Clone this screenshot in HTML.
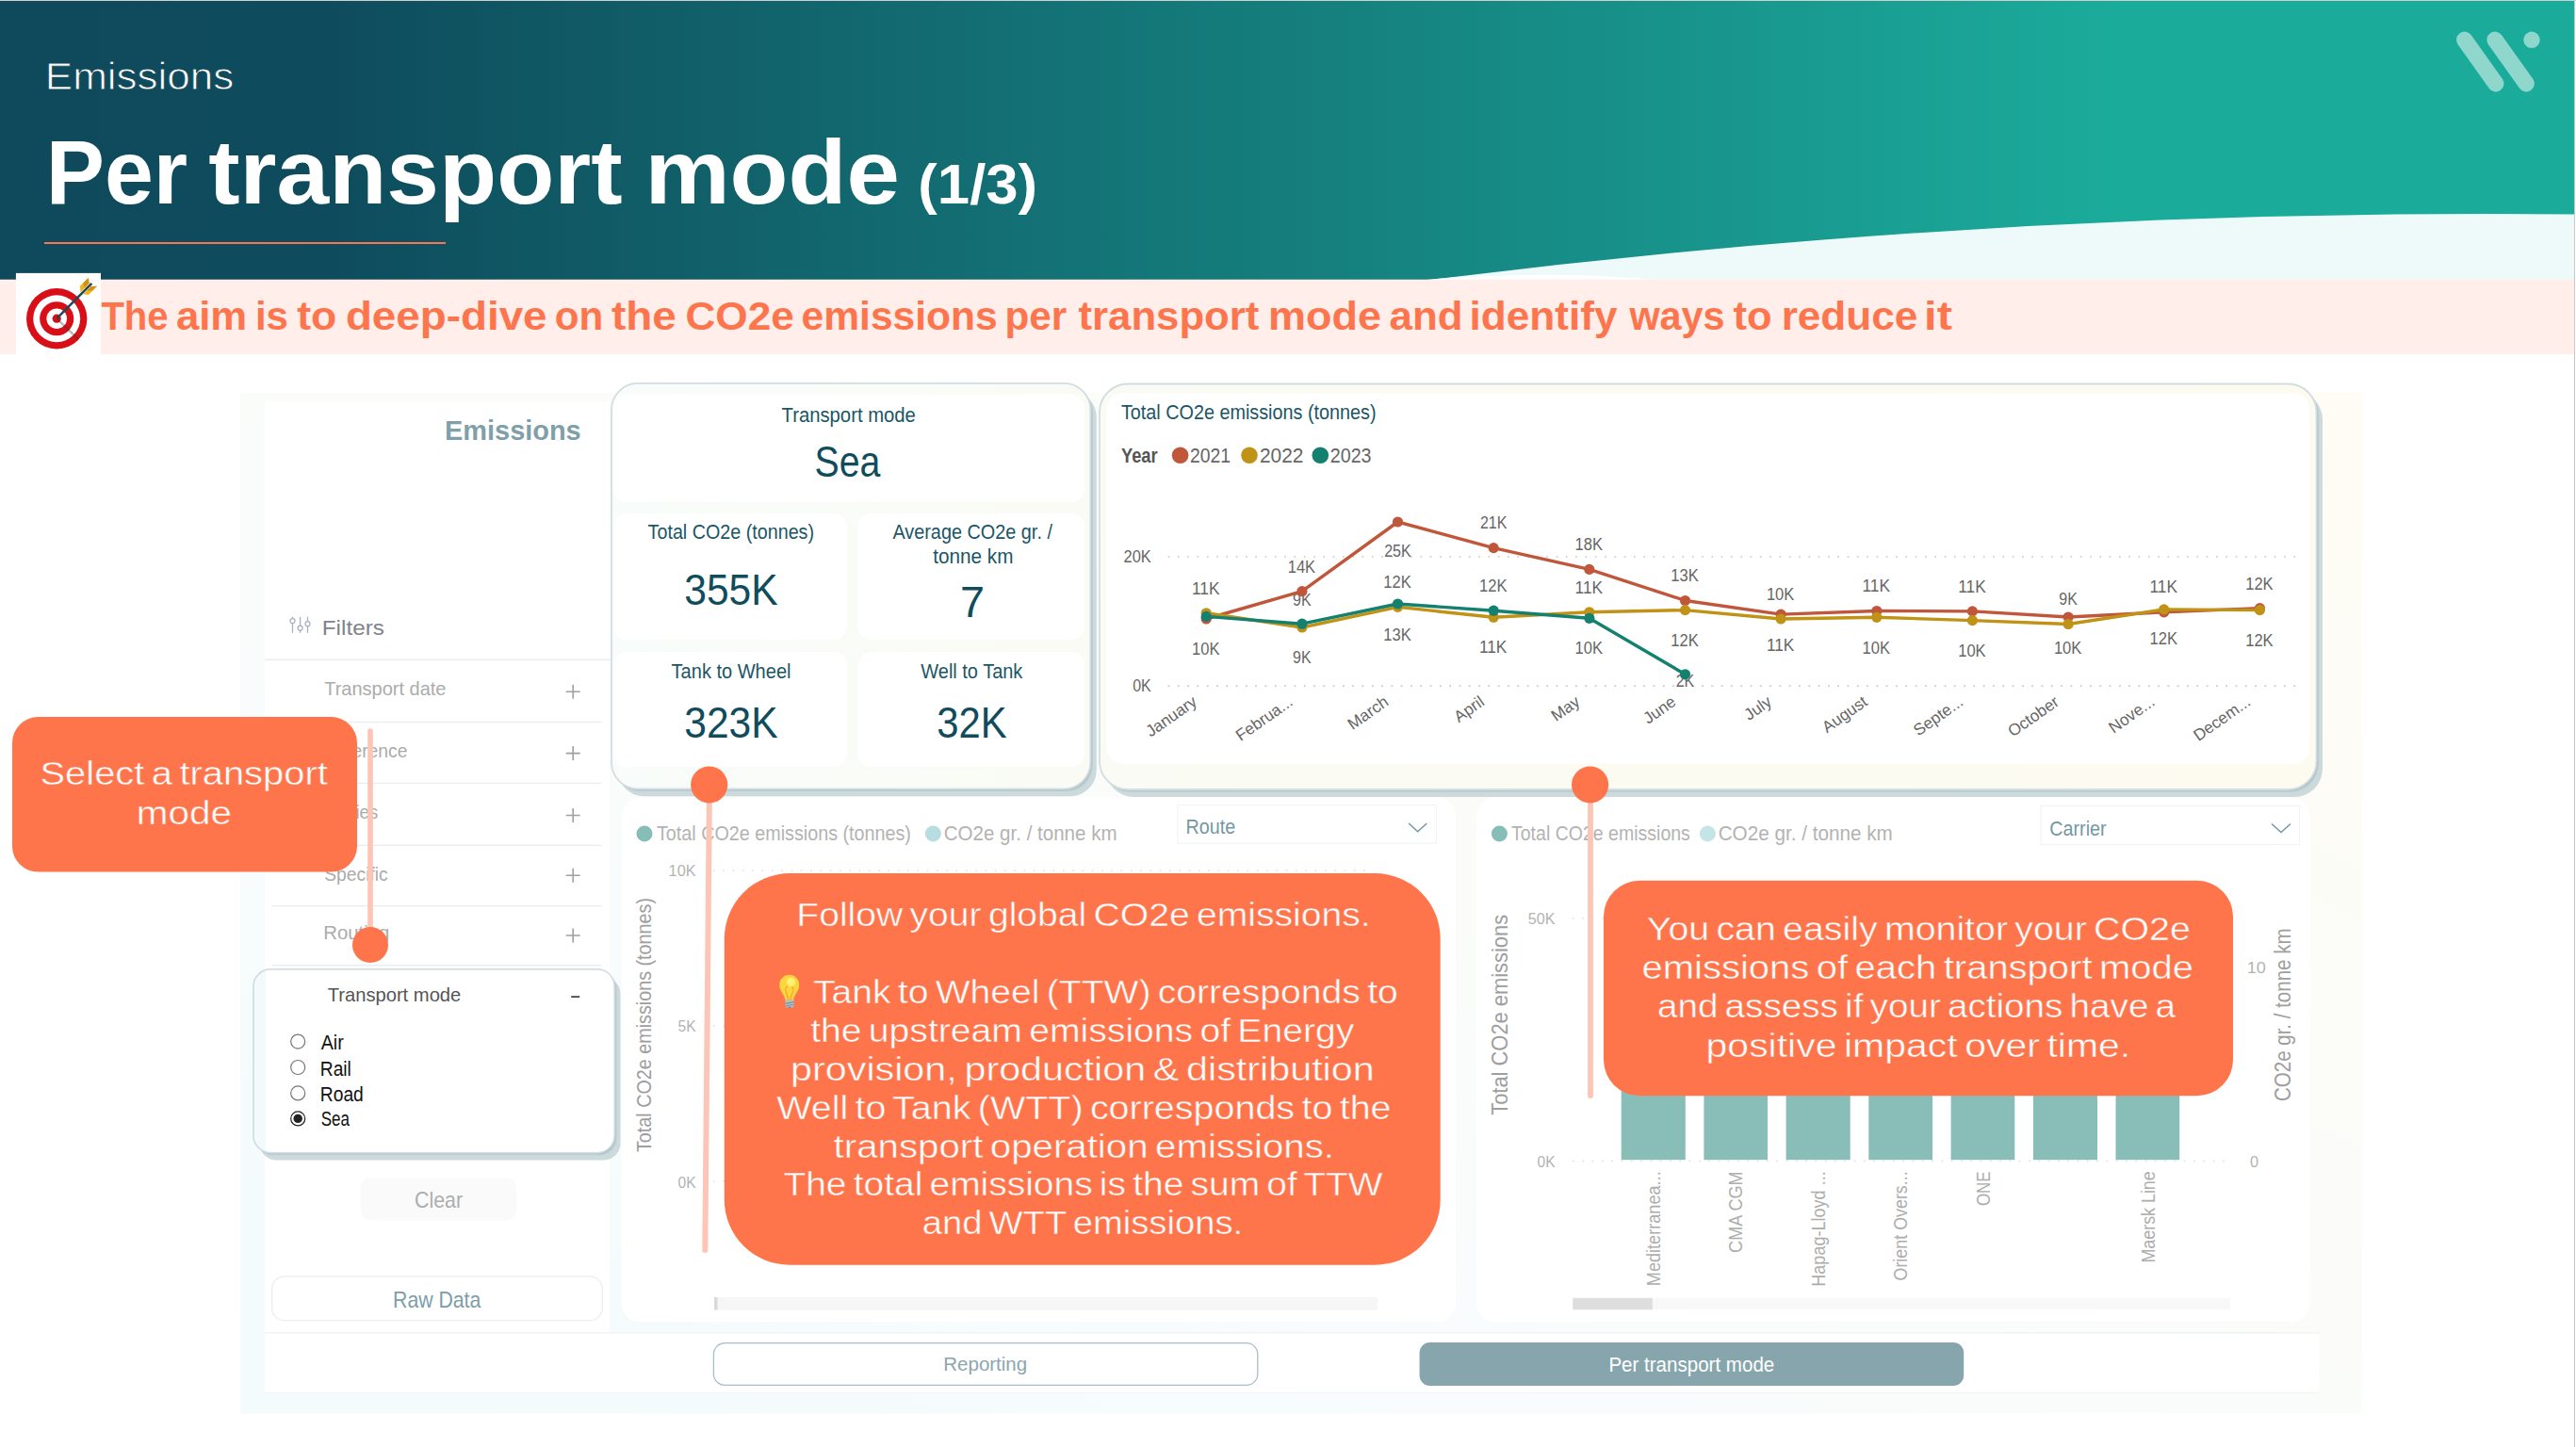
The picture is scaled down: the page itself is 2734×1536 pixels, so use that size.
<!DOCTYPE html>
<html lang="en"><head><meta charset="utf-8"><title>Emissions - Per transport mode (1/3)</title>
<style>
html,body{margin:0;padding:0;background:#fff;}
body{width:2734px;height:1536px;overflow:hidden;font-family:"Liberation Sans",sans-serif;}
svg{display:block;}
svg text{font-family:"Liberation Sans",sans-serif;}
</style></head><body>
<svg width="2734" height="1536" viewBox="0 0 2734 1536">
<defs>
<linearGradient id="hg" x1="0" x2="2734" y1="0" y2="0" gradientUnits="userSpaceOnUse">
<stop offset="0" stop-color="#0E4A5B"/><stop offset="0.12" stop-color="#0E4B5C"/>
<stop offset="0.5" stop-color="#157E7D"/><stop offset="0.82" stop-color="#1BAB9B"/><stop offset="1" stop-color="#1AAB9A"/>
</linearGradient>
<linearGradient id="dbg" x1="2507" y1="417" x2="1661" y2="2176" gradientUnits="userSpaceOnUse">
<stop offset="0" stop-color="#FEFCF4"/><stop offset="0.3" stop-color="#FCFCF8"/><stop offset="0.55" stop-color="#FAFCFB"/><stop offset="1" stop-color="#F3FBFD"/>
</linearGradient>
<linearGradient id="kbg" x1="0" x2="1" y1="0" y2="0">
<stop offset="0" stop-color="#F8FCFA"/><stop offset="1" stop-color="#FAFBF4"/>
</linearGradient>
<linearGradient id="cbg" x1="0" x2="1" y1="0" y2="0">
<stop offset="0" stop-color="#FAFBF4"/><stop offset="1" stop-color="#FDFBF0"/>
</linearGradient>
</defs>
<rect x="0.0" y="0.0" width="2734.0" height="1536.0" rx="0" fill="#FFFFFF" />
<rect x="0.0" y="0.0" width="2732.0" height="297.0" rx="0" fill="url(#hg)" />
<path d="M1514,297 Q1900,262 2120,297 Z" fill="#FFFFFF"/>
<path d="M1514,297.5 Q2122,221 2732,227.4 L2732,297.5 Z" fill="#EEFAFA"/>
<path d="M1514,297.5 Q1640,286 1765,297.5 Z" fill="#FFFFFF"/>
<rect x="0.0" y="0.0" width="2734.0" height="1.0" rx="0" fill="#CFCFCF" />
<rect x="2732.0" y="0.0" width="1.0" height="1536.0" rx="0" fill="#C9C9C9" />
<g stroke="#8FD6CC" stroke-width="17.4" stroke-linecap="round"><line x1="2615.7" y1="42.3" x2="2648.8" y2="88.7"/><line x1="2648" y1="42.3" x2="2681.2" y2="88.7"/></g><circle cx="2687" cy="42.3" r="8.7" fill="#8FD6CC"/>
<text x="47.8" y="95.2" font-size="41.4" fill="#FFFFFF" stroke="#0E4A5B" stroke-width="0.9" textLength="200.43" lengthAdjust="spacingAndGlyphs" >Emissions</text>
<text x="48.7" y="216.3" font-size="96.88" fill="#FFFFFF" font-weight="bold" textLength="150.35" lengthAdjust="spacingAndGlyphs" >Per</text>
<text x="221.2" y="216.3" font-size="96.88" fill="#FFFFFF" font-weight="bold" textLength="439.50" lengthAdjust="spacingAndGlyphs" >transport</text>
<text x="684.4" y="216.3" font-size="96.88" fill="#FFFFFF" font-weight="bold" textLength="270.60" lengthAdjust="spacingAndGlyphs" >mode</text>
<text x="974.3" y="215.6" font-size="58.48" fill="#FFFFFF" font-weight="bold" textLength="126.82" lengthAdjust="spacingAndGlyphs" >(1/3)</text>
<rect x="47.0" y="257.0" width="426.0" height="2.0" rx="0" fill="#FD754D" />
<rect x="0.0" y="296.7" width="2732.0" height="79.3" rx="0" fill="#FFEEEA" />
<rect x="16.9" y="289.9" width="90.1" height="86.1" rx="0" fill="#FFFFFF" />
<g><circle cx="60.2" cy="338.2" r="32.2" fill="#D80F17"/><circle cx="60.2" cy="338.2" r="24.95" fill="#FFFFFF"/><circle cx="60.2" cy="338.2" r="18.05" fill="#D80F17"/><circle cx="60.2" cy="338.2" r="10.8" fill="#FFFFFF"/><circle cx="60.2" cy="338.2" r="4.6" fill="#D80F17"/><line x1="61.2" y1="339.2" x2="82.9" y2="359.9" stroke="#23343A" stroke-opacity="0.32" stroke-width="2.5"/><path d="M84.9,303.6 L93.9,294.9 L94.600,300.700 L85.5,310.3 Z" fill="#F2B40F"/><path d="M88.300,300.300 L93.9,294.9 L94.600,300.700 L89.8,305.700 Z" fill="#D4901A"/><path d="M88.4,312.3 L96.700,304.100 L102.9,303.700 L94.0,312.9 Z" fill="#F2B40F"/><path d="M92.300,308.400 L96.700,304.100 L102.9,303.700 L98.3,308.500 Z" fill="#D4901A"/><line x1="60.2" y1="338.2" x2="97.3" y2="300.8" stroke="#1F4858" stroke-width="2.5"/></g>
<text x="107.4" y="349.7" font-size="42.02" fill="#FD754D" font-weight="bold" textLength="71.20" lengthAdjust="spacingAndGlyphs" >The</text>
<text x="186.9" y="349.7" font-size="42.02" fill="#FD754D" font-weight="bold" textLength="75.29" lengthAdjust="spacingAndGlyphs" >aim</text>
<text x="270.9" y="349.7" font-size="42.02" fill="#FD754D" font-weight="bold" textLength="35.07" lengthAdjust="spacingAndGlyphs" >is</text>
<text x="315.2" y="349.7" font-size="42.02" fill="#FD754D" font-weight="bold" textLength="42.11" lengthAdjust="spacingAndGlyphs" >to</text>
<text x="366.9" y="349.7" font-size="42.02" fill="#FD754D" font-weight="bold" textLength="213.68" lengthAdjust="spacingAndGlyphs" >deep-dive</text>
<text x="588.7" y="349.7" font-size="42.02" fill="#FD754D" font-weight="bold" textLength="51.47" lengthAdjust="spacingAndGlyphs" >on</text>
<text x="649.1" y="349.7" font-size="42.02" fill="#FD754D" font-weight="bold" textLength="68.79" lengthAdjust="spacingAndGlyphs" >the</text>
<text x="727.4" y="349.7" font-size="42.02" fill="#FD754D" font-weight="bold" textLength="115.39" lengthAdjust="spacingAndGlyphs" >CO2e</text>
<text x="850.5" y="349.7" font-size="42.02" fill="#FD754D" font-weight="bold" textLength="208.30" lengthAdjust="spacingAndGlyphs" >emissions</text>
<text x="1066.5" y="349.7" font-size="42.02" fill="#FD754D" font-weight="bold" textLength="65.66" lengthAdjust="spacingAndGlyphs" >per</text>
<text x="1144.5" y="349.7" font-size="42.02" fill="#FD754D" font-weight="bold" textLength="191.89" lengthAdjust="spacingAndGlyphs" >transport</text>
<text x="1346.1" y="349.7" font-size="42.02" fill="#FD754D" font-weight="bold" textLength="119.90" lengthAdjust="spacingAndGlyphs" >mode</text>
<text x="1474.6" y="349.7" font-size="42.02" fill="#FD754D" font-weight="bold" textLength="77.92" lengthAdjust="spacingAndGlyphs" >and</text>
<text x="1559.6" y="349.7" font-size="42.02" fill="#FD754D" font-weight="bold" textLength="156.84" lengthAdjust="spacingAndGlyphs" >identify</text>
<text x="1729.4" y="349.7" font-size="42.02" fill="#FD754D" font-weight="bold" textLength="101.16" lengthAdjust="spacingAndGlyphs" >ways</text>
<text x="1839.6" y="349.7" font-size="42.02" fill="#FD754D" font-weight="bold" textLength="41.09" lengthAdjust="spacingAndGlyphs" >to</text>
<text x="1890.7" y="349.7" font-size="42.02" fill="#FD754D" font-weight="bold" textLength="144.63" lengthAdjust="spacingAndGlyphs" >reduce</text>
<text x="2042.1" y="349.7" font-size="42.02" fill="#FD754D" font-weight="bold" textLength="29.81" lengthAdjust="spacingAndGlyphs" >it</text>
<rect x="255.0" y="417.0" width="2252.0" height="1083.5" rx="0" fill="url(#dbg)" />
<rect x="281.0" y="426.5" width="365.8" height="987.5" rx="0" fill="#FFFFFF" />
<rect x="281.0" y="1415.5" width="2180.0" height="62.5" rx="0" fill="#FFFFFF" />
<rect x="281.0" y="1414.0" width="2180.0" height="1.5" rx="0" fill="#F1F4F5" />
<rect x="281.0" y="1478.0" width="2180.0" height="1.0" rx="0" fill="#F1F5F5" />
<text x="472.0" y="467.0" font-size="29.5" fill="#7F9FA9" font-weight="bold" textLength="144.68" lengthAdjust="spacingAndGlyphs" >Emissions</text>
<g stroke="#ABAEBF" stroke-width="1.25" fill="#FFFFFF"><line x1="310.5" y1="654.9" x2="310.5" y2="671.8"/><line x1="318.6" y1="654.9" x2="318.6" y2="671.8"/><line x1="326.5" y1="654.9" x2="326.5" y2="671.8"/><circle cx="310.5" cy="659.1" r="2.5"/><circle cx="318.6" cy="666.7" r="2.5"/><circle cx="326.5" cy="662.2" r="2.5"/></g>
<text x="341.8" y="673.6" font-size="21.73" fill="#80838C" textLength="66.06" lengthAdjust="spacingAndGlyphs" >Filters</text>
<rect x="281.0" y="699.5" width="367.0" height="1.5" rx="0" fill="#E9EDEF" />
<text x="344.2" y="737.6" font-size="20.7" fill="#ABABAB" textLength="129.29" lengthAdjust="spacingAndGlyphs" >Transport date</text>
<path d="M600.7,734.3 h15 M608.2,726.8 v15" stroke="#A0A0A0" stroke-width="1.6" fill="none"/>
<text x="343.3" y="803.6" font-size="20.7" fill="#ABABAB" textLength="89.21" lengthAdjust="spacingAndGlyphs" >Reference</text>
<path d="M600.7,799.6 h15 M608.2,792.1 v15" stroke="#A0A0A0" stroke-width="1.6" fill="none"/>
<text x="343.3" y="869.0" font-size="20.7" fill="#ABABAB" textLength="58.01" lengthAdjust="spacingAndGlyphs" >Parties</text>
<path d="M600.7,865.5 h15 M608.2,858.0 v15" stroke="#A0A0A0" stroke-width="1.6" fill="none"/>
<text x="344.2" y="935.0" font-size="20.7" fill="#ABABAB" textLength="67.52" lengthAdjust="spacingAndGlyphs" >Specific</text>
<path d="M600.7,929.3 h15 M608.2,921.8 v15" stroke="#A0A0A0" stroke-width="1.6" fill="none"/>
<text x="343.2" y="997.3" font-size="20.7" fill="#ABABAB" textLength="70.18" lengthAdjust="spacingAndGlyphs" >Routing</text>
<path d="M600.7,993 h15 M608.2,985.5 v15" stroke="#A0A0A0" stroke-width="1.6" fill="none"/>
<rect x="289.0" y="765.8" width="349.5" height="1.4" rx="0" fill="#E9EDEF" />
<rect x="289.0" y="830.8" width="349.5" height="1.4" rx="0" fill="#E9EDEF" />
<rect x="289.0" y="896.6" width="349.5" height="1.4" rx="0" fill="#E9EDEF" />
<rect x="289.0" y="960.9" width="349.5" height="1.4" rx="0" fill="#E9EDEF" />
<rect x="289.0" y="1024.1" width="349.5" height="1.4" rx="0" fill="#E9EDEF" />
<rect x="275.5" y="1037.0" width="383.0" height="194.5" rx="18" fill="#CCDADC" />
<rect x="271.6" y="1031.8" width="383.0" height="194.5" rx="18" fill="#BCCDD2" />
<rect x="270.2" y="1030.3" width="383.0" height="194.5" rx="18" fill="#A6BCC3" />
<rect x="269.0" y="1029.0" width="383.0" height="194.5" rx="18" fill="#F2FAFC" stroke="#D2DEE2" stroke-width="1.8" />
<clipPath id="tmc"><rect x="269.7" y="1029.7" width="381.6" height="193.1" rx="17.3"/></clipPath>
<rect x="282" y="1029" width="372" height="196" fill="#FFFFFF" clip-path="url(#tmc)"/>
<text x="347.7" y="1063.0" font-size="20.7" fill="#555555" textLength="141.59" lengthAdjust="spacingAndGlyphs" >Transport mode</text>
<rect x="606.2" y="1057.1" width="9.0" height="2.0" rx="0" fill="#555555" />
<circle cx="316.2" cy="1105.6" r="7.5" fill="#FFFFFF" stroke="#777777" stroke-width="1.2"/>
<text x="340.7" y="1113.7" font-size="21.22" fill="#111111" textLength="24.06" lengthAdjust="spacingAndGlyphs" >Air</text>
<circle cx="316.2" cy="1133" r="7.5" fill="#FFFFFF" stroke="#777777" stroke-width="1.2"/>
<text x="339.8" y="1141.5" font-size="21.22" fill="#111111" textLength="33.05" lengthAdjust="spacingAndGlyphs" >Rail</text>
<circle cx="316.2" cy="1160.4" r="7.5" fill="#FFFFFF" stroke="#777777" stroke-width="1.2"/>
<text x="339.8" y="1168.9" font-size="21.22" fill="#111111" textLength="46.03" lengthAdjust="spacingAndGlyphs" >Road</text>
<circle cx="316.2" cy="1187.4" r="7.5" fill="#FFFFFF" stroke="#222222" stroke-width="1.2"/>
<circle cx="316.2" cy="1187.4" r="4.7" fill="#222222"/>
<text x="340.7" y="1195.2" font-size="21.22" fill="#111111" textLength="30.24" lengthAdjust="spacingAndGlyphs" >Sea</text>
<rect x="382.7" y="1250.4" width="165.3" height="45.2" rx="10" fill="#FAFAFA" />
<text x="440.0" y="1282.0" font-size="23.8" fill="#ADADAD" textLength="51.03" lengthAdjust="spacingAndGlyphs" >Clear</text>
<rect x="288.7" y="1354.8" width="350.5" height="46.9" rx="13" fill="#FFFFFF" stroke="#EAEEEF" stroke-width="1.3" />
<text x="417.1" y="1387.6" font-size="23.8" fill="#7C9DA8" textLength="93.21" lengthAdjust="spacingAndGlyphs" >Raw Data</text>
<rect x="655.5" y="414.9" width="508.3" height="430.4" rx="28" fill="#CCDADC" />
<rect x="651.6" y="409.7" width="508.3" height="430.4" rx="28" fill="#BCCDD2" />
<rect x="650.2" y="408.2" width="508.3" height="430.4" rx="28" fill="#A6BCC3" />
<rect x="649.0" y="406.9" width="508.3" height="430.4" rx="28" fill="url(#kbg)" stroke="#D2DEE2" stroke-width="1.8" />
<rect x="651.0" y="418.6" width="500.0" height="114.4" rx="14" fill="#FFFFFF" />
<rect x="651.0" y="545.0" width="248.0" height="134.0" rx="14" fill="#FFFFFF" />
<rect x="910.7" y="545.0" width="240.3" height="134.0" rx="14" fill="#FFFFFF" />
<rect x="651.0" y="692.0" width="248.0" height="122.0" rx="14" fill="#FFFFFF" />
<rect x="910.7" y="692.0" width="240.3" height="122.0" rx="14" fill="#FFFFFF" />
<text x="829.5" y="447.8" font-size="22.56" fill="#1B5666" textLength="142.39" lengthAdjust="spacingAndGlyphs" >Transport mode</text>
<text x="864.5" y="506.0" font-size="46.57" fill="#0F4C5C" textLength="69.80" lengthAdjust="spacingAndGlyphs" >Sea</text>
<text x="687.6" y="571.9" font-size="22.56" fill="#1B5666" textLength="176.44" lengthAdjust="spacingAndGlyphs" >Total CO2e (tonnes)</text>
<text x="726.3" y="641.7" font-size="47.09" fill="#0F4C5C" textLength="99.37" lengthAdjust="spacingAndGlyphs" >355K</text>
<text x="947.4" y="571.9" font-size="22.56" fill="#1B5666" textLength="169.55" lengthAdjust="spacingAndGlyphs" >Average CO2e gr. /</text>
<text x="990.2" y="597.9" font-size="22.56" fill="#1B5666" textLength="85.22" lengthAdjust="spacingAndGlyphs" >tonne km</text>
<text x="1019.0" y="654.7" font-size="47.09" fill="#0F4C5C" textLength="26.06" lengthAdjust="spacingAndGlyphs" >7</text>
<text x="712.6" y="719.7" font-size="22.56" fill="#1B5666" textLength="126.90" lengthAdjust="spacingAndGlyphs" >Tank to Wheel</text>
<text x="726.3" y="783.0" font-size="47.09" fill="#0F4C5C" textLength="99.37" lengthAdjust="spacingAndGlyphs" >323K</text>
<text x="977.3" y="719.7" font-size="22.56" fill="#1B5666" textLength="108.06" lengthAdjust="spacingAndGlyphs" >Well to Tank</text>
<text x="994.2" y="783.0" font-size="47.09" fill="#0F4C5C" textLength="74.34" lengthAdjust="spacingAndGlyphs" >32K</text>
<rect x="1173.5" y="415.5" width="1291.5" height="430.5" rx="30" fill="#CCDADC" />
<rect x="1169.6" y="410.3" width="1291.5" height="430.5" rx="30" fill="#BCCDD2" />
<rect x="1168.2" y="408.8" width="1291.5" height="430.5" rx="30" fill="#A6BCC3" />
<rect x="1167.0" y="407.5" width="1291.5" height="430.5" rx="30" fill="url(#cbg)" stroke="#D2DEE2" stroke-width="1.8" />
<rect x="1174.6" y="417.5" width="1276.7" height="393.3" rx="17" fill="#FFFFFF" />
<text x="1189.9" y="444.6" font-size="21.73" fill="#1B5666" textLength="270.62" lengthAdjust="spacingAndGlyphs" >Total CO2e emissions (tonnes)</text>
<text x="1189.9" y="490.7" font-size="21.73" fill="#555555" font-weight="bold" textLength="38.84" lengthAdjust="spacingAndGlyphs" >Year</text>
<circle cx="1252.6" cy="483.2" r="8.8" fill="#C0563A"/>
<text x="1263.0" y="490.7" font-size="21.73" fill="#666666" textLength="43.06" lengthAdjust="spacingAndGlyphs" >2021</text>
<circle cx="1326" cy="483.2" r="8.8" fill="#C09316"/>
<text x="1337.0" y="490.7" font-size="21.73" fill="#666666" textLength="46.50" lengthAdjust="spacingAndGlyphs" >2022</text>
<circle cx="1401.3" cy="483.2" r="8.8" fill="#14806F"/>
<text x="1411.8" y="490.7" font-size="21.73" fill="#666666" textLength="43.78" lengthAdjust="spacingAndGlyphs" >2023</text>
<line x1="1239.6" y1="591" x2="2440" y2="591" stroke="#C8C8C8" stroke-width="1.6" stroke-dasharray="1.7 8.6" stroke-linecap="butt"/>
<line x1="1239.6" y1="728.1" x2="2440" y2="728.1" stroke="#C8C8C8" stroke-width="1.6" stroke-dasharray="1.7 8.6" stroke-linecap="butt"/>
<text x="1192.5" y="597.2" font-size="18.11" fill="#666666" textLength="29.27" lengthAdjust="spacingAndGlyphs" >20K</text>
<text x="1202.2" y="734.3" font-size="18.11" fill="#666666" textLength="19.57" lengthAdjust="spacingAndGlyphs" >0K</text>
<text x="1265.0" y="631.0" font-size="18.11" fill="#666666" textLength="29.53" lengthAdjust="spacingAndGlyphs" >11K</text>
<text x="1366.7" y="607.6" font-size="18.11" fill="#666666" textLength="29.49" lengthAdjust="spacingAndGlyphs" >14K</text>
<text x="1469.2" y="591.4" font-size="18.11" fill="#666666" textLength="28.57" lengthAdjust="spacingAndGlyphs" >25K</text>
<text x="1570.9" y="561.2" font-size="18.11" fill="#666666" textLength="28.57" lengthAdjust="spacingAndGlyphs" >21K</text>
<text x="1671.6" y="584.2" font-size="18.11" fill="#666666" textLength="29.49" lengthAdjust="spacingAndGlyphs" >18K</text>
<text x="1773.3" y="617.3" font-size="18.11" fill="#666666" textLength="29.49" lengthAdjust="spacingAndGlyphs" >13K</text>
<text x="1874.9" y="636.8" font-size="18.11" fill="#666666" textLength="29.49" lengthAdjust="spacingAndGlyphs" >10K</text>
<text x="1976.5" y="628.0" font-size="18.11" fill="#666666" textLength="29.53" lengthAdjust="spacingAndGlyphs" >11K</text>
<text x="2078.2" y="628.7" font-size="18.11" fill="#666666" textLength="29.53" lengthAdjust="spacingAndGlyphs" >11K</text>
<text x="2185.3" y="641.7" font-size="18.11" fill="#666666" textLength="19.57" lengthAdjust="spacingAndGlyphs" >9K</text>
<text x="2281.5" y="628.7" font-size="18.11" fill="#666666" textLength="29.53" lengthAdjust="spacingAndGlyphs" >11K</text>
<text x="2383.2" y="626.1" font-size="18.11" fill="#666666" textLength="29.49" lengthAdjust="spacingAndGlyphs" >12K</text>
<text x="1265.0" y="694.6" font-size="18.11" fill="#666666" textLength="29.49" lengthAdjust="spacingAndGlyphs" >10K</text>
<text x="1372.1" y="704.0" font-size="18.11" fill="#666666" textLength="19.57" lengthAdjust="spacingAndGlyphs" >9K</text>
<text x="1468.3" y="680.0" font-size="18.11" fill="#666666" textLength="29.49" lengthAdjust="spacingAndGlyphs" >13K</text>
<text x="1569.9" y="692.7" font-size="18.11" fill="#666666" textLength="29.53" lengthAdjust="spacingAndGlyphs" >11K</text>
<text x="1671.6" y="693.7" font-size="18.11" fill="#666666" textLength="29.49" lengthAdjust="spacingAndGlyphs" >10K</text>
<text x="1773.3" y="685.5" font-size="18.11" fill="#666666" textLength="29.49" lengthAdjust="spacingAndGlyphs" >12K</text>
<text x="1874.9" y="691.0" font-size="18.11" fill="#666666" textLength="29.53" lengthAdjust="spacingAndGlyphs" >11K</text>
<text x="1976.6" y="693.7" font-size="18.11" fill="#666666" textLength="29.49" lengthAdjust="spacingAndGlyphs" >10K</text>
<text x="2078.2" y="697.0" font-size="18.11" fill="#666666" textLength="29.49" lengthAdjust="spacingAndGlyphs" >10K</text>
<text x="2179.9" y="693.7" font-size="18.11" fill="#666666" textLength="29.49" lengthAdjust="spacingAndGlyphs" >10K</text>
<text x="2281.5" y="684.0" font-size="18.11" fill="#666666" textLength="29.49" lengthAdjust="spacingAndGlyphs" >12K</text>
<text x="2383.2" y="685.5" font-size="18.11" fill="#666666" textLength="29.49" lengthAdjust="spacingAndGlyphs" >12K</text>
<text x="1372.1" y="642.7" font-size="18.11" fill="#666666" textLength="19.57" lengthAdjust="spacingAndGlyphs" >9K</text>
<text x="1468.3" y="623.8" font-size="18.11" fill="#666666" textLength="29.49" lengthAdjust="spacingAndGlyphs" >12K</text>
<text x="1570.0" y="628.0" font-size="18.11" fill="#666666" textLength="29.49" lengthAdjust="spacingAndGlyphs" >12K</text>
<text x="1671.6" y="630.3" font-size="18.11" fill="#666666" textLength="29.53" lengthAdjust="spacingAndGlyphs" >11K</text>
<text x="1778.7" y="728.7" font-size="18.11" fill="#666666" textLength="19.57" lengthAdjust="spacingAndGlyphs" >2K</text>
<polyline points="1280.2,657 1381.9,627.7 1483.5,554 1585.2,581.6 1686.8,604.4 1788.5,637.5 1890.1,652.1 1991.8,648.5 2093.4,648.9 2195.1,655 2296.7,649.8 2398.4,645.6" fill="none" stroke="#C0563A" stroke-width="3.4" stroke-linejoin="round"/>
<circle cx="1280.2" cy="657" r="5.6" fill="#C0563A"/>
<circle cx="1381.9" cy="627.7" r="5.6" fill="#C0563A"/>
<circle cx="1483.5" cy="554" r="5.6" fill="#C0563A"/>
<circle cx="1585.2" cy="581.6" r="5.6" fill="#C0563A"/>
<circle cx="1686.8" cy="604.4" r="5.6" fill="#C0563A"/>
<circle cx="1788.5" cy="637.5" r="5.6" fill="#C0563A"/>
<circle cx="1890.1" cy="652.1" r="5.6" fill="#C0563A"/>
<circle cx="1991.8" cy="648.5" r="5.6" fill="#C0563A"/>
<circle cx="2093.4" cy="648.9" r="5.6" fill="#C0563A"/>
<circle cx="2195.1" cy="655" r="5.6" fill="#C0563A"/>
<circle cx="2296.7" cy="649.8" r="5.6" fill="#C0563A"/>
<circle cx="2398.4" cy="645.6" r="5.6" fill="#C0563A"/>
<polyline points="1280.2,650.8 1381.9,666 1483.5,644.3 1585.2,655.3 1686.8,649.8 1788.5,647.6 1890.1,657 1991.8,655.3 2093.4,658.6 2195.1,662.5 2296.7,646.9 2398.4,647.6" fill="none" stroke="#C09316" stroke-width="3.4" stroke-linejoin="round"/>
<circle cx="1280.2" cy="650.8" r="5.6" fill="#C09316"/>
<circle cx="1381.9" cy="666" r="5.6" fill="#C09316"/>
<circle cx="1483.5" cy="644.3" r="5.6" fill="#C09316"/>
<circle cx="1585.2" cy="655.3" r="5.6" fill="#C09316"/>
<circle cx="1686.8" cy="649.8" r="5.6" fill="#C09316"/>
<circle cx="1788.5" cy="647.6" r="5.6" fill="#C09316"/>
<circle cx="1890.1" cy="657" r="5.6" fill="#C09316"/>
<circle cx="1991.8" cy="655.3" r="5.6" fill="#C09316"/>
<circle cx="2093.4" cy="658.6" r="5.6" fill="#C09316"/>
<circle cx="2195.1" cy="662.5" r="5.6" fill="#C09316"/>
<circle cx="2296.7" cy="646.9" r="5.6" fill="#C09316"/>
<circle cx="2398.4" cy="647.6" r="5.6" fill="#C09316"/>
<polyline points="1280.2,654.4 1381.9,662.2 1483.5,641 1585.2,648.2 1686.8,656.3 1788.5,715.8" fill="none" stroke="#14806F" stroke-width="3.4" stroke-linejoin="round"/>
<circle cx="1280.2" cy="654.4" r="5.6" fill="#14806F"/>
<circle cx="1381.9" cy="662.2" r="5.6" fill="#14806F"/>
<circle cx="1483.5" cy="641" r="5.6" fill="#14806F"/>
<circle cx="1585.2" cy="648.2" r="5.6" fill="#14806F"/>
<circle cx="1686.8" cy="656.3" r="5.6" fill="#14806F"/>
<circle cx="1788.5" cy="715.8" r="5.6" fill="#14806F"/>
<text x="1271.6" y="747.6" font-size="17.3" fill="#666666" text-anchor="end" transform="rotate(-35 1271.6 747.6)">January</text>
<text x="1373.3" y="747.6" font-size="17.3" fill="#666666" text-anchor="end" transform="rotate(-35 1373.3 747.6)">Februa...</text>
<text x="1474.9" y="747.6" font-size="17.3" fill="#666666" text-anchor="end" transform="rotate(-35 1474.9 747.6)">March</text>
<text x="1576.6" y="747.6" font-size="17.3" fill="#666666" text-anchor="end" transform="rotate(-35 1576.6 747.6)">April</text>
<text x="1678.2" y="747.6" font-size="17.3" fill="#666666" text-anchor="end" transform="rotate(-35 1678.2 747.6)">May</text>
<text x="1779.9" y="747.6" font-size="17.3" fill="#666666" text-anchor="end" transform="rotate(-35 1779.9 747.6)">June</text>
<text x="1881.5" y="747.6" font-size="17.3" fill="#666666" text-anchor="end" transform="rotate(-35 1881.5 747.6)">July</text>
<text x="1983.2" y="747.6" font-size="17.3" fill="#666666" text-anchor="end" transform="rotate(-35 1983.2 747.6)">August</text>
<text x="2084.8" y="747.6" font-size="17.3" fill="#666666" text-anchor="end" transform="rotate(-35 2084.8 747.6)">Septe...</text>
<text x="2186.5" y="747.6" font-size="17.3" fill="#666666" text-anchor="end" transform="rotate(-35 2186.5 747.6)">October</text>
<text x="2288.1" y="747.6" font-size="17.3" fill="#666666" text-anchor="end" transform="rotate(-35 2288.1 747.6)">Nove...</text>
<text x="2389.8" y="747.6" font-size="17.3" fill="#666666" text-anchor="end" transform="rotate(-35 2389.8 747.6)">Decem...</text>
<rect x="659.5" y="846.5" width="885.5" height="556.5" rx="20" fill="#FFFFFF" />
<circle cx="684" cy="885" r="8.5" fill="#86BDB6"/>
<text x="697.0" y="891.8" font-size="21.73" fill="#B3B3B3" textLength="269.92" lengthAdjust="spacingAndGlyphs" >Total CO2e emissions (tonnes)</text>
<circle cx="990.4" cy="885" r="8.5" fill="#B7DDE1"/>
<text x="1001.7" y="891.8" font-size="21.73" fill="#B3B3B3" textLength="183.88" lengthAdjust="spacingAndGlyphs" >CO2e gr. / tonne km</text>
<rect x="1250.0" y="854.5" width="274.3" height="40.7" rx="0" fill="#FFFFFF" stroke="#F0F3F4" stroke-width="1.1" />
<text x="1258.6" y="885.0" font-size="21.73" fill="#7398A4" textLength="52.68" lengthAdjust="spacingAndGlyphs" >Route</text>
<polyline points="1495.2,874 1504.7,882.8 1514.3,874" fill="none" stroke="#7398A4" stroke-width="1.5"/>
<line x1="757" y1="924" x2="1456" y2="924" stroke="#E2E2E2" stroke-width="1.6" stroke-dasharray="1.7 8.6"/>
<text x="709.6" y="930.0" font-size="17.39" fill="#B3B3B3" textLength="29.05" lengthAdjust="spacingAndGlyphs" >10K</text>
<line x1="757" y1="1089" x2="1456" y2="1089" stroke="#E2E2E2" stroke-width="1.6" stroke-dasharray="1.7 8.6"/>
<text x="719.5" y="1095.4" font-size="17.39" fill="#B3B3B3" textLength="19.13" lengthAdjust="spacingAndGlyphs" >5K</text>
<line x1="757" y1="1254" x2="1456" y2="1254" stroke="#E2E2E2" stroke-width="1.6" stroke-dasharray="1.7 8.6"/>
<text x="719.5" y="1261.0" font-size="17.39" fill="#B3B3B3" textLength="19.13" lengthAdjust="spacingAndGlyphs" >0K</text>
<text x="690.5" y="1223" font-size="22.6" fill="#9E9E9E" textLength="270" lengthAdjust="spacingAndGlyphs" transform="rotate(-90 690.5 1223)">Total CO2e emissions (tonnes)</text>
<rect x="758.0" y="1377.0" width="704.0" height="13.5" rx="0" fill="#F6F6F6" />
<rect x="758.0" y="1377.0" width="3.5" height="13.5" rx="0" fill="#D9D9D9" />
<rect x="1567.0" y="846.5" width="884.5" height="556.5" rx="20" fill="#FFFFFF" />
<circle cx="1591.4" cy="885" r="8.5" fill="#86BDB6"/>
<text x="1604.0" y="891.8" font-size="21.73" fill="#B3B3B3" textLength="189.87" lengthAdjust="spacingAndGlyphs" >Total CO2e emissions</text>
<circle cx="1812.4" cy="885" r="8.5" fill="#C5E4E7"/>
<text x="1823.7" y="891.8" font-size="21.73" fill="#B3B3B3" textLength="185.09" lengthAdjust="spacingAndGlyphs" >CO2e gr. / tonne km</text>
<rect x="2166.0" y="855.3" width="274.5" height="41.2" rx="0" fill="#FFFFFF" stroke="#F0F3F4" stroke-width="1.1" />
<text x="2175.3" y="887.0" font-size="21.73" fill="#7398A4" textLength="60.32" lengthAdjust="spacingAndGlyphs" >Carrier</text>
<polyline points="2411,874.5 2421,883.5 2431,874.5" fill="none" stroke="#7398A4" stroke-width="1.5"/>
<line x1="1669" y1="974.8" x2="2368" y2="974.8" stroke="#E2E2E2" stroke-width="1.6" stroke-dasharray="1.7 8.6"/>
<line x1="1669" y1="1232.4" x2="2368" y2="1232.4" stroke="#E2E2E2" stroke-width="1.6" stroke-dasharray="1.7 8.6"/>
<text x="1621.7" y="980.9" font-size="17.28" fill="#B3B3B3" textLength="28.75" lengthAdjust="spacingAndGlyphs" >50K</text>
<text x="1631.5" y="1238.6" font-size="17.28" fill="#B3B3B3" textLength="19.06" lengthAdjust="spacingAndGlyphs" >0K</text>
<text x="2384.7" y="1032.9" font-size="17.28" fill="#B3B3B3" textLength="20.18" lengthAdjust="spacingAndGlyphs" >10</text>
<text x="2388.0" y="1238.6" font-size="17.28" fill="#B3B3B3" textLength="9.07" lengthAdjust="spacingAndGlyphs" >0</text>
<rect x="1720.7" y="1100.0" width="68.1" height="131.2" rx="0" fill="#89BEB8" />
<rect x="1808.4" y="1100.0" width="67.6" height="131.2" rx="0" fill="#89BEB8" />
<rect x="1895.6" y="1100.0" width="68.1" height="131.2" rx="0" fill="#89BEB8" />
<rect x="1983.3" y="1100.0" width="67.7" height="131.2" rx="0" fill="#89BEB8" />
<rect x="2070.6" y="1100.0" width="67.7" height="131.2" rx="0" fill="#89BEB8" />
<rect x="2157.9" y="1100.0" width="68.1" height="131.2" rx="0" fill="#89BEB8" />
<rect x="2245.5" y="1100.0" width="67.7" height="131.2" rx="0" fill="#89BEB8" />
<text x="1599.9" y="1183.8" font-size="24" fill="#9E9E9E" textLength="213" lengthAdjust="spacingAndGlyphs" transform="rotate(-90 1599.9 1183.8)">Total CO2e emissions</text>
<text x="2431.4" y="1169" font-size="23" fill="#9E9E9E" textLength="183.5" lengthAdjust="spacingAndGlyphs" transform="rotate(-90 2431.4 1169)">CO2e gr. / tonne km</text>
<text x="1762.0" y="1243.3" font-size="19.6" fill="#ADADAD" text-anchor="end" textLength="121.9" lengthAdjust="spacingAndGlyphs" transform="rotate(-90 1762.0 1243.3)">Mediterranea...</text>
<text x="1849.5" y="1243.3" font-size="19.6" fill="#ADADAD" text-anchor="end" textLength="86.6" lengthAdjust="spacingAndGlyphs" transform="rotate(-90 1849.5 1243.3)">CMA CGM</text>
<text x="1937.0" y="1243.3" font-size="19.6" fill="#ADADAD" text-anchor="end" textLength="122.4" lengthAdjust="spacingAndGlyphs" transform="rotate(-90 1937.0 1243.3)">Hapag-Lloyd ...</text>
<text x="2024.5" y="1243.3" font-size="19.6" fill="#ADADAD" text-anchor="end" textLength="116.2" lengthAdjust="spacingAndGlyphs" transform="rotate(-90 2024.5 1243.3)">Orient Overs...</text>
<text x="2111.8" y="1243.3" font-size="19.6" fill="#ADADAD" text-anchor="end" textLength="36.8" lengthAdjust="spacingAndGlyphs" transform="rotate(-90 2111.8 1243.3)">ONE</text>
<text x="2286.7" y="1243.3" font-size="19.6" fill="#ADADAD" text-anchor="end" textLength="97.2" lengthAdjust="spacingAndGlyphs" transform="rotate(-90 2286.7 1243.3)">Maersk Line</text>
<rect x="1669.3" y="1377.8" width="697.7" height="12.4" rx="0" fill="#F8F8F8" />
<rect x="1669.3" y="1377.8" width="84.5" height="12.4" rx="0" fill="#DEDEDE" />
<rect x="757.4" y="1425.6" width="577.4" height="44.8" rx="12" fill="#FFFFFF" stroke="#A6BEC6" stroke-width="1.3" />
<text x="1001.3" y="1455.0" font-size="21.01" fill="#8CA6AF" textLength="88.84" lengthAdjust="spacingAndGlyphs" >Reporting</text>
<rect x="1506.6" y="1425.0" width="577.6" height="46.0" rx="11" fill="#87A5AD" />
<text x="1707.4" y="1455.8" font-size="21.22" fill="#FFFFFF" textLength="175.84" lengthAdjust="spacingAndGlyphs" >Per transport mode</text>
<line x1="393" y1="776" x2="393" y2="1003" stroke="#FDC5B6" stroke-width="5.6" stroke-linecap="round"/>
<circle cx="393" cy="1003" r="19" fill="#FE744B"/>
<rect x="13.0" y="761.1" width="366.0" height="164.5" rx="27.4" fill="#FE744B" />
<text x="42.5" y="833.0" font-size="34.78" fill="#FFFFFF" stroke="#FE744B" stroke-width="0.45" word-spacing="-3.2" textLength="305.31" lengthAdjust="spacingAndGlyphs" >Select a transport</text>
<text x="144.8" y="874.6" font-size="34.78" fill="#FFFFFF" stroke="#FE744B" stroke-width="0.45" word-spacing="-3.2" textLength="101.23" lengthAdjust="spacingAndGlyphs" >mode</text>
<line x1="753" y1="833" x2="748.3" y2="1327" stroke="#FDC5B6" stroke-width="6" stroke-linecap="round"/>
<circle cx="752.7" cy="833" r="19.6" fill="#FE744B"/>
<rect x="768.8" y="927.1" width="759.9" height="415.6" rx="69.3" fill="#FE744B" />
<text x="845.3" y="983.4" font-size="34.78" fill="#FFFFFF" stroke="#FE744B" stroke-width="0.45" word-spacing="-3.2" textLength="609.39" lengthAdjust="spacingAndGlyphs" >Follow your global CO2e emissions.</text>
<text x="863.0" y="1065.3" font-size="34.78" fill="#FFFFFF" stroke="#FE744B" stroke-width="0.45" word-spacing="-3.2" textLength="620.75" lengthAdjust="spacingAndGlyphs" >Tank to Wheel (TTW) corresponds to</text>
<text x="860.2" y="1106.3" font-size="34.78" fill="#FFFFFF" stroke="#FE744B" stroke-width="0.45" word-spacing="-3.2" textLength="577.16" lengthAdjust="spacingAndGlyphs" >the upstream emissions of Energy</text>
<text x="839.1" y="1147.2" font-size="34.78" fill="#FFFFFF" stroke="#FE744B" stroke-width="0.45" word-spacing="-3.2" textLength="619.61" lengthAdjust="spacingAndGlyphs" >provision, production &amp; distribution</text>
<text x="824.2" y="1187.5" font-size="34.78" fill="#FFFFFF" stroke="#FE744B" stroke-width="0.45" word-spacing="-3.2" textLength="652.36" lengthAdjust="spacingAndGlyphs" >Well to Tank (WTT) corresponds to the</text>
<text x="884.6" y="1228.8" font-size="34.78" fill="#FFFFFF" stroke="#FE744B" stroke-width="0.45" word-spacing="-3.2" textLength="531.43" lengthAdjust="spacingAndGlyphs" >transport operation emissions.</text>
<text x="831.4" y="1269.4" font-size="34.78" fill="#FFFFFF" stroke="#FE744B" stroke-width="0.45" word-spacing="-3.2" textLength="636.24" lengthAdjust="spacingAndGlyphs" >The total emissions is the sum of TTW</text>
<text x="978.7" y="1310.3" font-size="34.78" fill="#FFFFFF" stroke="#FE744B" stroke-width="0.45" word-spacing="-3.2" textLength="340.46" lengthAdjust="spacingAndGlyphs" >and WTT emissions.</text>
<g><path d="M827.3,1046.3 A10.45,10.45 0 1 1 848.1,1046.3 C848.1,1052.5 843,1055 842.1,1061.6 L833.5,1061.6 C832.5,1055 827.3,1052.5 827.3,1046.3 Z" fill="#FDD63F"/><path d="M836.6,1061 C836.2,1055 832.6,1052.5 833.6,1049.5 Q834.3,1047.3 836.2,1046.8 M838.9,1061 C839.3,1055 842.9,1052.5 841.9,1049.5 Q841.3,1047.8 840.2,1047.3" stroke="#FBA82A" stroke-width="1.3" fill="none"/><circle cx="839.5" cy="1042.6" r="4.6" fill="#FFF176"/><path d="M833.3,1061.6 h9.3 v6.3 l-2.600,2 h-4.100 l-2.600,-2 z" fill="#B5C1C6"/><path d="M833.3,1064.6 l9.300,-1.600 v1.400 l-9.300,1.600 z M833.3,1067.300 l9.300,-1.600 v1.300 l-9.300,1.600 z" fill="#8A969B"/><path d="M835.800,1068.800 h4.300 l-1,1.200 h-2.300 z" fill="#7A868B"/></g>
<line x1="1688" y1="833" x2="1688" y2="1163" stroke="#FDC5B6" stroke-width="5.8" stroke-linecap="round"/>
<circle cx="1687.6" cy="833" r="19.6" fill="#FE744B"/>
<rect x="1702.0" y="934.8" width="668.0" height="228.4" rx="38.1" fill="#FE744B" />
<text x="1747.8" y="998.4" font-size="34.78" fill="#FFFFFF" stroke="#FE744B" stroke-width="0.45" word-spacing="-3.2" textLength="576.96" lengthAdjust="spacingAndGlyphs" >You can easily monitor your CO2e</text>
<text x="1742.5" y="1039.2" font-size="34.78" fill="#FFFFFF" stroke="#FE744B" stroke-width="0.45" word-spacing="-3.2" textLength="585.54" lengthAdjust="spacingAndGlyphs" >emissions of each transport mode</text>
<text x="1758.9" y="1080.0" font-size="34.78" fill="#FFFFFF" stroke="#FE744B" stroke-width="0.45" word-spacing="-3.2" textLength="550.22" lengthAdjust="spacingAndGlyphs" >and assess if your actions have a</text>
<text x="1810.6" y="1121.6" font-size="34.78" fill="#FFFFFF" stroke="#FE744B" stroke-width="0.45" word-spacing="-3.2" textLength="450.54" lengthAdjust="spacingAndGlyphs" >positive impact over time.</text>
</svg>
</body></html>
